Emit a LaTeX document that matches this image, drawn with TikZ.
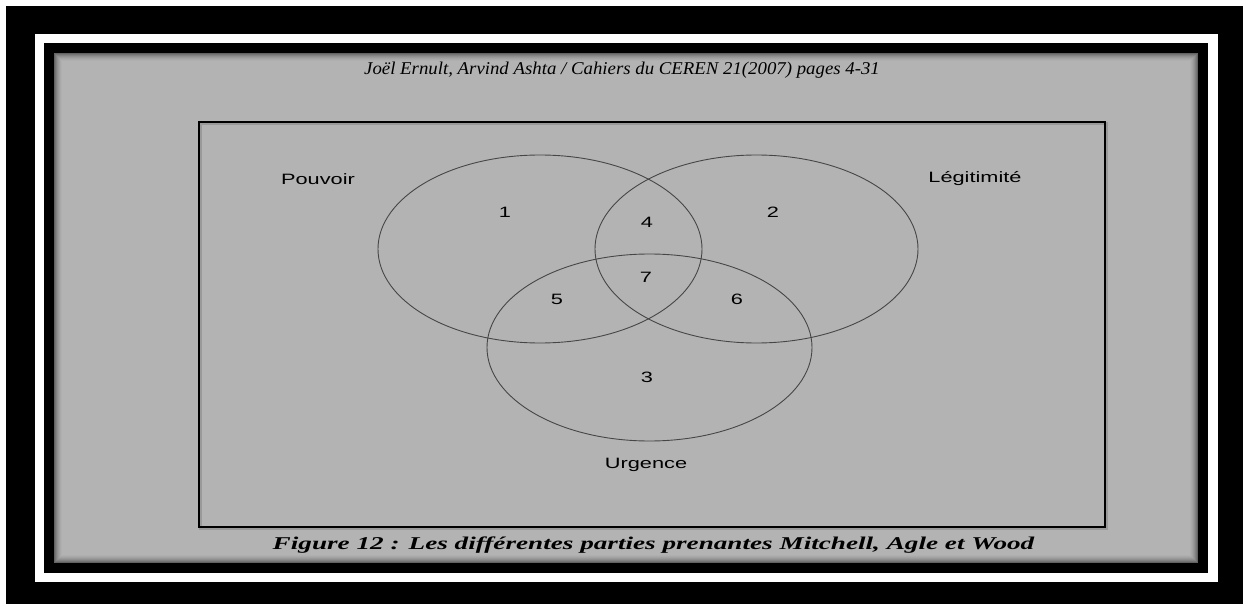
\documentclass[tikz,border=0pt]{standalone}
\usepackage{fontspec}
\usepackage{graphicx}
\setmainfont{Liberation Serif}
\newfontfamily\arialf{Liberation Sans}
\definecolor{panelgray}{RGB}{179,179,179}
\definecolor{ringgray}{RGB}{70,70,70}
\tikzset{
  lbl/.style={font=\arialf\fontsize{15}{15}\selectfont, text=black, inner sep=0pt},
  num/.style={font=\arialf\fontsize{15}{15}\selectfont, text=black, inner sep=0pt},
  ring/.style={draw=ringgray, line width=0.9pt},
}
\newcommand{\wide}[1]{\scalebox{1.45}[1]{#1}}
\begin{document}
\begin{tikzpicture}[x=1pt,y=-1pt]
\useasboundingbox (0,0) rectangle (1243,604);
\fill[white] (0,0) rectangle (1243,604);
\fill[black] (6,6) rectangle (1243,604);
\fill[white] (35,34) rectangle (1218,582);
\fill[black] (44,43) rectangle (1208,573);
\fill[panelgray] (54,53) rectangle (1198,563);
% inner shadow
\foreach \i/\o in {0/0.45,1/0.35,2/0.27,3/0.2,4/0.14,5/0.09,6/0.05,7/0.02}{
  \draw[black, opacity=\o, line width=1pt] (54.5+\i,53.5+\i) rectangle (1197.5-\i,562.5-\i);
}
% header
\node[inner sep=0pt, font=\itshape\fontsize{18}{18}\selectfont] (hdr) at (622,70)
  {\scalebox{1.045}[1]{Joël Ernult, Arvind Ashta / Cahiers du CEREN 21(2007) pages 4-31}};
% frame
\draw[black!40, line width=2.5pt] (200.5,123.5) rectangle (1106.5,528.5);
\draw[black, line width=2.5pt] (199,122) rectangle (1105,527);
% ellipses
\draw[ring] (540,249) ellipse [x radius=162, y radius=94];
\draw[ring] (756.5,249) ellipse [x radius=161.5, y radius=94];
\draw[ring] (649.5,347.5) ellipse [x radius=162.5, y radius=93.5];
% labels
\node[lbl] (pouvoir) at (318,179) {\wide{Pouvoir}};
\node[lbl] (legit) at (975,179) {\wide{Légitimité}};
\node[lbl] (urg) at (646,465) {\wide{Urgence}};
\node[num] (n1) at (505,212) {\wide{1}};
\node[num] (n2) at (773,212) {\wide{2}};
\node[num] (n3) at (647,377) {\wide{3}};
\node[num] (n4) at (647,222) {\wide{4}};
\node[num] (n5) at (557,299) {\wide{5}};
\node[num] (n6) at (737,299) {\wide{6}};
\node[num] (n7) at (646,277) {\wide{7}};
% caption
\node[inner sep=0pt, anchor=base, font=\bfseries\itshape\fontsize{18}{18}\selectfont] (cap) at (653.5,549)
  {\scalebox{1.51}[1]{Figure 12 : Les différentes parties prenantes Mitchell, Agle et Wood}};
\end{tikzpicture}
\end{document}
